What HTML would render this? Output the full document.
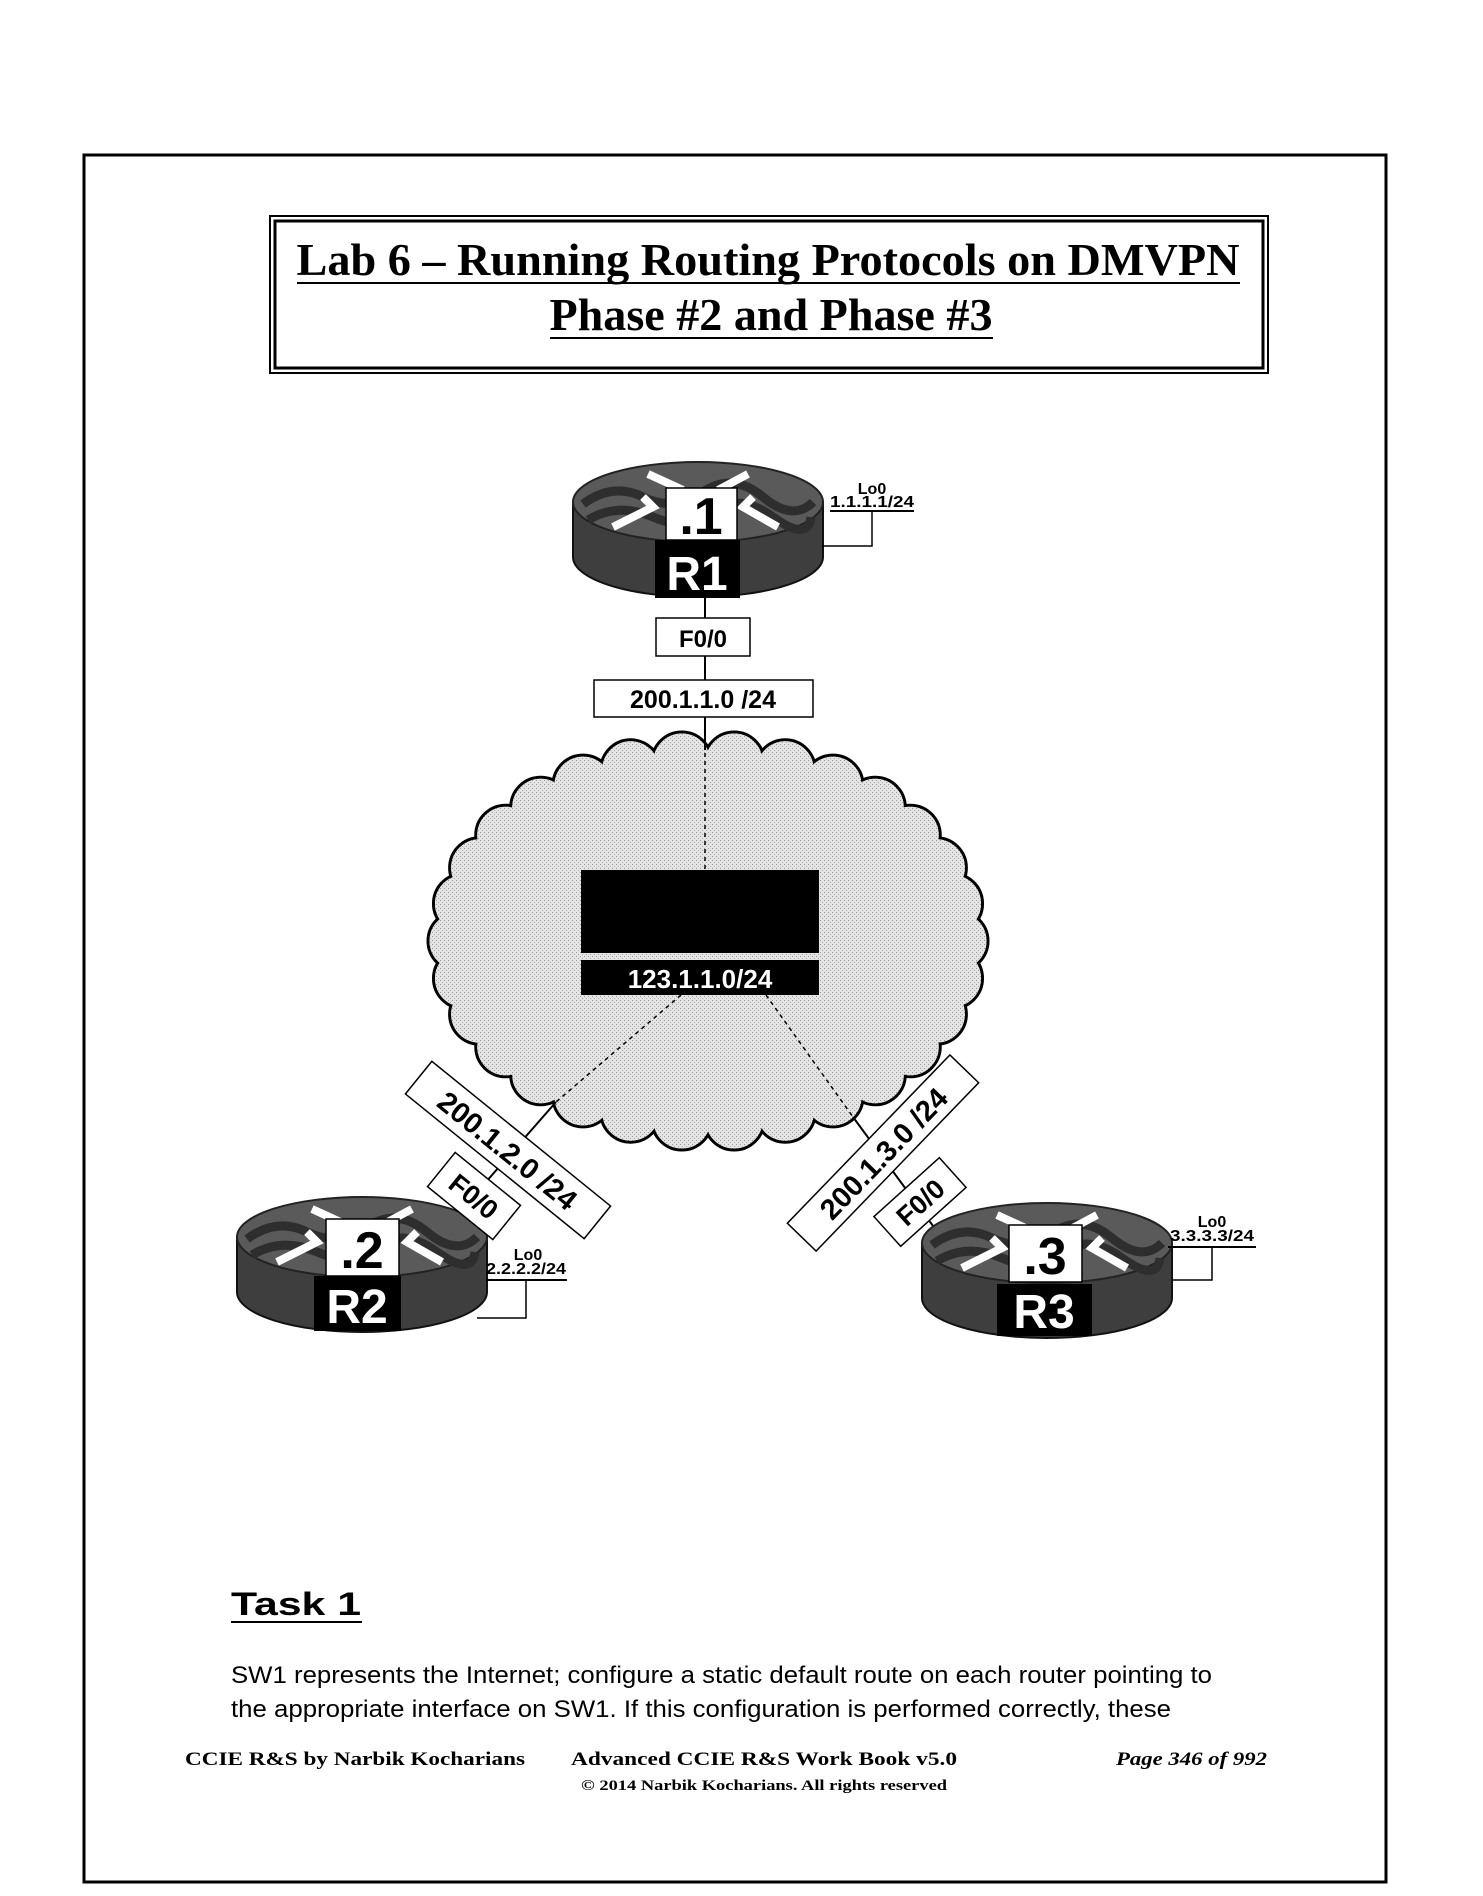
<!DOCTYPE html>
<html><head><meta charset="utf-8"><style>
html,body{margin:0;padding:0;background:#fff}
svg{display:block}
</style></head><body>
<svg width="1483" height="1896" viewBox="0 0 1483 1896" xmlns="http://www.w3.org/2000/svg">
<defs>
<g id="router">
  <path d="M0,40 L0,95 A125,40 0 0 0 250,95 L250,40 Z" fill="#3e3e3e" stroke="#111" stroke-width="2"/>
  <ellipse cx="125" cy="40" rx="125" ry="40" fill="#5a5a5a" stroke="#222" stroke-width="2"/>
  <path d="M10,42 Q40,20 70,35 T130,30 T190,35 T240,40" fill="none" stroke="#2e2e2e" stroke-width="9"/>
  <path d="M15,58 Q45,40 80,55 T140,50 T200,55 T238,55" fill="none" stroke="#2e2e2e" stroke-width="9"/>
  <path d="M40,65 L80,45 L70,35" fill="none" stroke="#fff" stroke-width="8"/>
  <path d="M205,65 L170,45 L180,35" fill="none" stroke="#fff" stroke-width="8"/>
  <path d="M75,12 L110,28" stroke="#fff" stroke-width="8"/>
  <path d="M175,12 L145,28" stroke="#fff" stroke-width="8"/>
</g>
<pattern id="dots" width="4" height="4" patternUnits="userSpaceOnUse">
  <rect width="4" height="4" fill="#e4e4e4"/><rect width="1" height="1" fill="#999"/><rect x="2" y="2" width="1" height="1" fill="#aaa"/>
</pattern>
</defs>

<rect x="84" y="155" width="1302" height="1727" fill="none" stroke="#000" stroke-width="3"/>

<rect x="270" y="216" width="998" height="157" fill="none" stroke="#000" stroke-width="2"/>
<rect x="275" y="221" width="988" height="147" fill="none" stroke="#000" stroke-width="3"/>
<text x="768" y="275" text-anchor="middle" font-family="Liberation Serif, serif" font-weight="bold" font-size="46" textLength="943" lengthAdjust="spacingAndGlyphs">Lab 6 – Running Routing Protocols on DMVPN</text>
<line x1="297" y1="283" x2="1240" y2="283" stroke="#000" stroke-width="2"/>
<text x="771" y="330" text-anchor="middle" font-family="Liberation Serif, serif" font-weight="bold" font-size="46" textLength="443" lengthAdjust="spacingAndGlyphs">Phase #2 and Phase #3</text>
<line x1="550" y1="338" x2="993" y2="338" stroke="#000" stroke-width="2"/>

<g stroke="#000" stroke-width="3" fill="url(#dots)" id="cloudring"></g>
<g id="cloud"></g>

<line x1="705" y1="597" x2="705" y2="680" stroke="#000" stroke-width="2"/>
<line x1="705" y1="717" x2="705" y2="750" stroke="#000" stroke-width="2"/>
<use href="#router" x="573" y="462"/>
<rect x="666" y="488" width="71" height="52" fill="#fff" stroke="#000" stroke-width="1.5"/>
<text x="701" y="534" text-anchor="middle" font-family="Liberation Sans, sans-serif" font-weight="bold" font-size="52">.1</text>
<rect x="655" y="540" width="85" height="58" fill="#000"/>
<text x="697" y="590" text-anchor="middle" font-family="Liberation Sans, sans-serif" font-weight="bold" font-size="48" fill="#fff">R1</text>
<text x="872" y="494" text-anchor="middle" font-family="Liberation Sans, sans-serif" font-weight="bold" font-size="16">Lo0</text>
<text x="872" y="507" text-anchor="middle" font-family="Liberation Sans, sans-serif" font-weight="bold" font-size="16" textLength="84" lengthAdjust="spacingAndGlyphs">1.1.1.1/24</text>
<polyline points="830,511 914,511" stroke="#000" stroke-width="2" fill="none"/>
<polyline points="872,511 872,546 822,546" stroke="#000" stroke-width="1.5" fill="none"/>
<rect x="656" y="618" width="94" height="38" fill="#fff" stroke="#000" stroke-width="1.5"/>
<text x="703" y="647" text-anchor="middle" font-family="Liberation Sans, sans-serif" font-weight="bold" font-size="24">F0/0</text>
<rect x="594" y="680" width="219" height="37" fill="#fff" stroke="#000" stroke-width="1.5"/>
<text x="703" y="708" text-anchor="middle" font-family="Liberation Sans, sans-serif" font-weight="bold" font-size="25">200.1.1.0 /24</text>

<line x1="705" y1="745" x2="705" y2="870" stroke="#000" stroke-width="1.5" stroke-dasharray="4,4"/>
<rect x="581" y="870" width="238" height="83" fill="#000"/>
<rect x="581" y="960" width="238" height="35" fill="#000"/>
<text x="700" y="988" text-anchor="middle" font-family="Liberation Sans, sans-serif" font-weight="bold" font-size="26" fill="#fff">123.1.1.0/24</text>
<line x1="681" y1="995" x2="556" y2="1102" stroke="#000" stroke-width="1.5" stroke-dasharray="4,4"/>
<line x1="766" y1="995" x2="853" y2="1117" stroke="#000" stroke-width="1.5" stroke-dasharray="4,4"/>

<line x1="556" y1="1102" x2="457" y2="1215" stroke="#000" stroke-width="2"/>
<line x1="853" y1="1117" x2="936" y2="1230" stroke="#000" stroke-width="2"/>

<use href="#router" x="237" y="1197"/>
<rect x="326" y="1219" width="73" height="57" fill="#fff" stroke="#000" stroke-width="1.5"/>
<text x="362" y="1268" text-anchor="middle" font-family="Liberation Sans, sans-serif" font-weight="bold" font-size="52">.2</text>
<rect x="314" y="1276" width="87" height="55" fill="#000"/>
<text x="357" y="1323" text-anchor="middle" font-family="Liberation Sans, sans-serif" font-weight="bold" font-size="48" fill="#fff">R2</text>
<text x="528" y="1260" text-anchor="middle" font-family="Liberation Sans, sans-serif" font-weight="bold" font-size="16">Lo0</text>
<text x="526" y="1274" text-anchor="middle" font-family="Liberation Sans, sans-serif" font-weight="bold" font-size="16" textLength="80" lengthAdjust="spacingAndGlyphs">2.2.2.2/24</text>
<line x1="486" y1="1280" x2="567" y2="1280" stroke="#000" stroke-width="2"/>
<polyline points="526,1280 526,1318 477,1318" stroke="#000" stroke-width="1.5" fill="none"/>

<use href="#router" x="922" y="1203"/>
<rect x="1009" y="1225" width="73" height="57" fill="#fff" stroke="#000" stroke-width="1.5"/>
<text x="1045" y="1274" text-anchor="middle" font-family="Liberation Sans, sans-serif" font-weight="bold" font-size="52">.3</text>
<rect x="997" y="1284" width="95" height="52" fill="#000"/>
<text x="1044" y="1328" text-anchor="middle" font-family="Liberation Sans, sans-serif" font-weight="bold" font-size="48" fill="#fff">R3</text>
<text x="1212" y="1227" text-anchor="middle" font-family="Liberation Sans, sans-serif" font-weight="bold" font-size="16">Lo0</text>
<text x="1212" y="1241" text-anchor="middle" font-family="Liberation Sans, sans-serif" font-weight="bold" font-size="16" textLength="84" lengthAdjust="spacingAndGlyphs">3.3.3.3/24</text>
<line x1="1168" y1="1247" x2="1256" y2="1247" stroke="#000" stroke-width="2"/>
<polyline points="1212,1247 1212,1280 1172,1280" stroke="#000" stroke-width="1.5" fill="none"/>

<g transform="translate(508,1150) rotate(39)">
  <rect x="-115" y="-21" width="230" height="42" fill="#fff" stroke="#000" stroke-width="1.5"/>
  <text x="0" y="11" text-anchor="middle" font-family="Liberation Sans, sans-serif" font-weight="bold" font-size="29">200.1.2.0 /24</text>
</g>
<g transform="translate(474,1196) rotate(39)">
  <rect x="-42" y="-22" width="84" height="44" fill="#fff" stroke="#000" stroke-width="1.5"/>
  <text x="0" y="10" text-anchor="middle" font-family="Liberation Sans, sans-serif" font-weight="bold" font-size="27">F0/0</text>
</g>
<g transform="translate(883,1153) rotate(-46)">
  <rect x="-117" y="-20" width="234" height="40" fill="#fff" stroke="#000" stroke-width="1.5"/>
  <text x="0" y="11" text-anchor="middle" font-family="Liberation Sans, sans-serif" font-weight="bold" font-size="29">200.1.3.0 /24</text>
</g>
<g transform="translate(920,1202) rotate(-42)">
  <rect x="-44" y="-20" width="88" height="40" fill="#fff" stroke="#000" stroke-width="1.5"/>
  <text x="0" y="10" text-anchor="middle" font-family="Liberation Sans, sans-serif" font-weight="bold" font-size="27">F0/0</text>
</g>

<text x="231" y="1615" font-family="Liberation Sans, sans-serif" font-weight="bold" font-size="32" textLength="130" lengthAdjust="spacingAndGlyphs">Task 1</text>
<line x1="231" y1="1622" x2="362" y2="1622" stroke="#000" stroke-width="2"/>
<text x="231" y="1683" font-family="Liberation Sans, sans-serif" font-size="24" textLength="981" lengthAdjust="spacingAndGlyphs">SW1 represents the Internet; configure a static default route on each router pointing to</text>
<text x="231" y="1717" font-family="Liberation Sans, sans-serif" font-size="24" textLength="940" lengthAdjust="spacingAndGlyphs">the appropriate interface on SW1. If this configuration is performed correctly, these</text>

<text x="185" y="1765" font-family="Liberation Serif, serif" font-weight="bold" font-size="19" textLength="340" lengthAdjust="spacingAndGlyphs">CCIE R&amp;S by Narbik Kocharians</text>
<text x="571" y="1765" font-family="Liberation Serif, serif" font-weight="bold" font-size="19" textLength="386" lengthAdjust="spacingAndGlyphs">Advanced CCIE R&amp;S Work Book v5.0</text>
<text x="1116" y="1765" font-family="Liberation Serif, serif" font-weight="bold" font-style="italic" font-size="19" textLength="151" lengthAdjust="spacingAndGlyphs">Page 346 of 992</text>
<text x="581" y="1790" font-family="Liberation Serif, serif" font-weight="bold" font-size="15" textLength="366" lengthAdjust="spacingAndGlyphs">© 2014 Narbik Kocharians. All rights reserved</text>
</svg>
<script>
(function(){
 var ns="http://www.w3.org/2000/svg";
 var ring=document.getElementById("cloudring"), cl=document.getElementById("cloud");
 var cx=708,cy=941,rx=250,ry=180,n=30,r=30;
 for(var i=0;i<n;i++){var a=2*Math.PI*i/n;
  var c=document.createElementNS(ns,"circle");c.setAttribute("cx",cx+rx*Math.cos(a));c.setAttribute("cy",cy+ry*Math.sin(a));c.setAttribute("r",r);ring.appendChild(c);
  var d=document.createElementNS(ns,"circle");d.setAttribute("cx",cx+rx*Math.cos(a));d.setAttribute("cy",cy+ry*Math.sin(a));d.setAttribute("r",r-1.5);d.setAttribute("fill","url(#dots)");cl.appendChild(d);}
 var e=document.createElementNS(ns,"ellipse");e.setAttribute("cx",cx);e.setAttribute("cy",cy);e.setAttribute("rx",rx);e.setAttribute("ry",ry);e.setAttribute("fill","url(#dots)");cl.appendChild(e);
})();
</script>
</body></html>
